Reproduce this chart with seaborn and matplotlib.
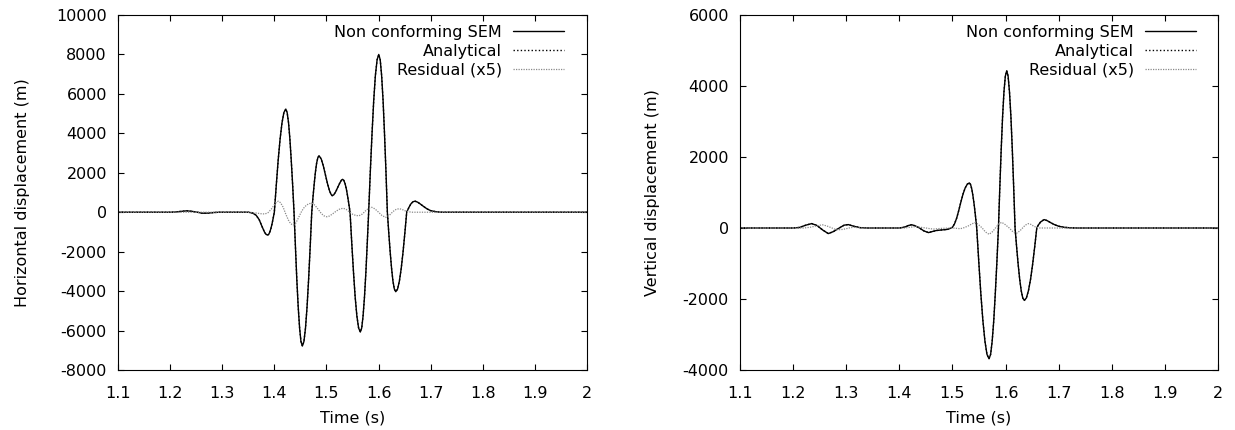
import numpy as np
import pandas as pd
import matplotlib
matplotlib.use("Agg")
import matplotlib.pyplot as plt
import seaborn as sns

# ---------------- horizontal component ----------------
t_h = [1.100, 1.200, 1.210, 1.220, 1.232, 1.242, 1.252, 1.262, 1.272, 1.284,
       1.295, 1.350, 1.358, 1.365, 1.371, 1.376, 1.381, 1.384, 1.387, 1.3892,
       1.3913, 1.3935, 1.3957, 1.3978, 1.400, 1.4037, 1.4073, 1.4110, 1.4147, 1.4183,
       1.422, 1.4246, 1.4273, 1.4299, 1.4325, 1.4352, 1.4378, 1.4405, 1.4431, 1.4458,
       1.4485, 1.4511, 1.4538, 1.4568, 1.4598, 1.4628, 1.4658, 1.4688, 1.4718, 1.4741,
       1.4765, 1.4788, 1.4811, 1.4835, 1.4858, 1.490, 1.494, 1.498, 1.502, 1.506,
       1.509, 1.511, 1.514, 1.518, 1.522, 1.526, 1.529, 1.531, 1.5334, 1.5358,
       1.5382, 1.5405, 1.5429, 1.5453, 1.5486, 1.5519, 1.5551, 1.5584, 1.5617, 1.565,
       1.5677, 1.5703, 1.5730, 1.5757, 1.5783, 1.581, 1.5842, 1.5875, 1.5907, 1.5939,
       1.5972, 1.6004, 1.6032, 1.6059, 1.6087, 1.6114, 1.6142, 1.6169, 1.6196, 1.6223,
       1.6250, 1.6276, 1.6303, 1.633, 1.6365, 1.6400, 1.6435, 1.6470, 1.6505, 1.654,
       1.658, 1.662, 1.666, 1.670, 1.675, 1.680, 1.686, 1.693, 1.700, 1.710,
       1.720, 2.000]
sem_h = [0, 0, 10, 40, 70, 45, 0, -50, -45, -15,
         0, 0, -40, -150, -380, -700, -1000, -1120, -1160, -1120,
         -1005, -820, -580, -300, 0, 1355, 2615, 3698, 4529, 5052,
         5230, 5052, 4529, 3698, 2615, 1355, 0, -1757, -3393, -4797,
         -5876, -6554, -6785, -6554, -5876, -4797, -3393, -1757, 0, 742,
         1433, 2026, 2481, 2768, 2865, 2700, 2350, 1900, 1450, 1080,
         900, 840, 880, 1050, 1280, 1500, 1630, 1668, 1611, 1444,
         1179, 834, 432, 0, -1573, -3038, -4295, -5261, -5868, -6075,
         -5868, -5261, -4295, -3038, -1573, 0, 2072, 4000, 5656, 6928,
         7728, 8000, 7728, 6928, 5656, 4000, 2072, 0, -1044, -2016,
         -2850, -3491, -3894, -4031, -3894, -3491, -2850, -2016, -1044, 0,
         230, 420, 530, 560, 510, 420, 300, 170, 80, 25,
         0, 0]
ana_h = list(sem_h)

tr_h = [1.100, 1.340, 1.355, 1.365, 1.374, 1.382, 1.388, 1.394, 1.400, 1.404,
        1.4077, 1.412, 1.417, 1.422, 1.427, 1.4315, 1.4365, 1.441, 1.446, 1.451,
        1.456, 1.462, 1.4675, 1.4729, 1.478, 1.484, 1.490, 1.495, 1.5005, 1.506,
        1.512, 1.519, 1.526, 1.5325, 1.538, 1.544, 1.550, 1.5565, 1.5625, 1.569,
        1.575, 1.581, 1.587, 1.593, 1.600, 1.607, 1.6144, 1.621, 1.628, 1.634,
        1.640, 1.646, 1.652, 1.658, 1.665, 2.000]
res_h = [0, 0, -10, -40, -75, -90, -20, 150, 380, 510,
         560, 480, 250, -100, -400, -590, -650, -560, -300, -20,
         200, 370, 440, 450, 350, 150, -60, -180, -230, -190,
         -80, 60, 170, 200, 140, 20, -100, -165, -180, -90,
         70, 200, 250, 170, 0, -180, -260, -150, 40, 150,
         180, 130, 60, 20, 0, 0]

# ---------------- vertical component ----------------
t_v = [1.100, 1.200, 1.212, 1.224, 1.235, 1.245, 1.256, 1.2663, 1.276, 1.288,
       1.296, 1.304, 1.314, 1.326, 1.340, 1.400, 1.410, 1.417, 1.4233, 1.430,
       1.438, 1.446, 1.4548, 1.462, 1.470, 1.480, 1.490, 1.496, 1.500, 1.504,
       1.508, 1.512, 1.516, 1.520, 1.524, 1.528, 1.5318, 1.5341, 1.5364, 1.5387,
       1.5411, 1.5434, 1.5457, 1.5496, 1.5534, 1.5573, 1.5612, 1.5650, 1.5689, 1.5719,
       1.5748, 1.5778, 1.5807, 1.5837, 1.5866, 1.5892, 1.5918, 1.5944, 1.5970, 1.5996,
       1.6022, 1.6048, 1.6074, 1.6101, 1.6127, 1.6153, 1.6179, 1.6208, 1.6237, 1.6266,
       1.6295, 1.6324, 1.6353, 1.6392, 1.6431, 1.6471, 1.6510, 1.6549, 1.6588, 1.662,
       1.666, 1.6725, 1.678, 1.685, 1.692, 1.700, 1.710, 1.722, 1.735, 2.000]
sem_v = [0, 0, 15, 80, 124, 70, -60, -158, -100, 10,
         80, 96, 50, 10, 0, 0, 25, 70, 92, 60,
         0, -80, -130, -100, -70, -55, -40, -10, 20, 120,
         280, 500, 740, 960, 1130, 1235, 1270, 1227, 1100, 898,
         635, 329, 0, -954, -1842, -2605, -3190, -3559, -3684, -3559,
         -3190, -2605, -1842, -954, 0, 1147, 2215, 3132, 3836, 4278,
         4429, 4278, 3836, 3132, 2215, 1147, 0, -528, -1020, -1442,
         -1767, -1971, -2040, -1971, -1767, -1442, -1020, -528, 0, 90,
         170, 237, 210, 150, 95, 50, 20, 5, 0, 0]
ana_v = list(sem_v)

tr_v = [1.100, 1.220, 1.232, 1.244, 1.255, 1.263, 1.270, 1.278, 1.285, 1.293,
        1.300, 1.308, 1.315, 1.322, 1.330, 1.410, 1.420, 1.430, 1.440, 1.450,
        1.458, 1.465, 1.472, 1.480, 1.500, 1.508, 1.515, 1.522, 1.530, 1.537,
        1.5426, 1.548, 1.556, 1.562, 1.569, 1.575, 1.581, 1.587, 1.5928, 1.599,
        1.607, 1.614, 1.621, 1.627, 1.632, 1.637, 1.643, 1.648, 1.653, 1.659,
        1.665, 2.000]
res_v = [0, 0, 20, 60, 90, 60, 20, -30, -50, -40,
         -20, 10, 20, 10, 0, 0, 20, 40, 20, 0,
         -20, -30, -20, -10, 0, -10, -20, 10, 60, 120,
         152, 110, 0, -110, -178, -110, 0, 110, 160, 100,
         0, -110, -145, -80, 0, 80, 124, 100, 50, 15,
         0, 0]

x_ticks = [1.1, 1.2, 1.3, 1.4, 1.5, 1.6, 1.7, 1.8, 1.9, 2.0]
x_tick_labels = ["1.1", "1.2", "1.3", "1.4", "1.5", "1.6", "1.7", "1.8", "1.9", "2"]
labels = ["Non conforming SEM", "Analytical", "Residual (x5)"]

FS = 11.5

sns.set_theme(style="ticks")
plt.rcParams["font.family"] = ["DejaVu Sans"]
plt.rcParams["font.size"] = FS
plt.rcParams["text.color"] = "black"
plt.rcParams["axes.labelcolor"] = "black"
plt.rcParams["xtick.color"] = "black"
plt.rcParams["ytick.color"] = "black"

fig = plt.figure(figsize=(12.35, 4.3), dpi=100)
ax_h = fig.add_axes([118 / 1235, 60 / 430, 469 / 1235, 355 / 430])
ax_v = fig.add_axes([740 / 1235, 60 / 430, 478 / 1235, 355 / 430])


def draw(ax, t, sem, ana, tr, res, ylim, yticks, ylabel, ylabelpad, leg_x):
    sns.lineplot(x=t, y=sem, ax=ax, color="black", lw=1.0, sort=False,
                 estimator=None, label=labels[0])
    sns.lineplot(x=t, y=ana, ax=ax, color="black", lw=1.0, sort=False,
                 estimator=None, linestyle=(0, (1.0, 1.6)), label=labels[1])
    sns.lineplot(x=tr, y=res, ax=ax, color="#8a8a8a", lw=0.9, sort=False,
                 estimator=None, linestyle=(0, (1.0, 1.0)), label=labels[2])
    ax.set_xlim(1.1, 2.0)
    ax.set_ylim(*ylim)
    ax.set_xticks(x_ticks)
    ax.set_xticklabels(x_tick_labels)
    ax.set_yticks(yticks)
    ax.set_yticklabels([str(v) for v in yticks])
    ax.tick_params(axis="both", which="major", direction="in", length=4.5,
                   width=0.8, top=True, right=True, labelsize=FS,
                   colors="black", labelcolor="black")
    ax.tick_params(axis="x", pad=11.5)
    ax.tick_params(axis="y", pad=8)
    for sp in ax.spines.values():
        sp.set_visible(True)
        sp.set_linewidth(0.8)
        sp.set_color("black")
    ax.set_xlabel("Time (s)", fontsize=FS, labelpad=7, color="black")
    ax.set_ylabel(ylabel, fontsize=FS, labelpad=ylabelpad, color="black")
    ax.legend(loc="upper right", bbox_to_anchor=(leg_x, 0.99), borderaxespad=0,
              frameon=False, markerfirst=False, fontsize=FS, handlelength=3.2,
              handletextpad=0.7, labelspacing=0.24, labelcolor="black")


draw(ax_h, t_h, sem_h, ana_h, tr_h, res_h, (-8000, 10000),
     list(range(-8000, 10001, 2000)), "Horizontal displacement (m)", 19, 0.965)
draw(ax_v, t_v, sem_v, ana_v, tr_v, res_v, (-4000, 6000),
     list(range(-4000, 6001, 2000)), "Vertical displacement (m)", 16, 0.968)

fig.savefig("out.png", dpi=100)
